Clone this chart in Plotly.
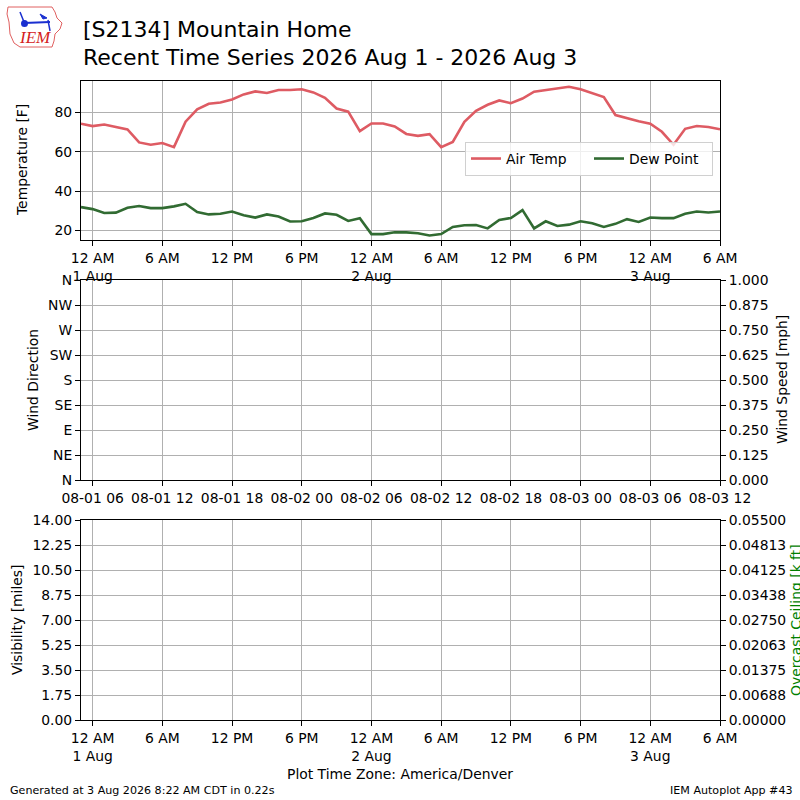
import pandas as pd
import plotly.graph_objects as go

# ---------------- data ----------------
start_time = "2026-07-31 23:00"
air_temp = [74.2, 73.0, 73.8, 72.6, 71.3, 64.7, 63.5, 64.4, 62.3, 75.2, 81.5, 84.3, 85.0, 86.5,
            89.1, 90.6, 89.8, 91.3, 91.3, 91.7, 90.1, 87.4, 81.9, 80.3, 70.4, 74.3, 74.3, 72.8,
            69.0, 68.0, 68.9, 62.3, 64.9, 75.2, 80.7, 83.8, 86.0, 84.6, 87.0, 90.5, 91.3, 92.0,
            93.0, 91.7, 89.9, 87.7, 78.6, 76.9, 75.4, 74.2, 70.1, 63.5, 71.6, 73.0, 72.5, 71.4]
dew_point = [31.8, 30.8, 28.8, 29.0, 31.5, 32.4, 31.3, 31.3, 32.2, 33.5, 29.3, 28.1, 28.4, 29.6,
             27.7, 26.5, 28.1, 27.0, 24.5, 24.6, 26.3, 28.6, 27.9, 24.8, 26.2, 18.1, 18.1, 19.0,
             19.0, 18.5, 17.4, 18.1, 21.7, 22.6, 22.7, 21.0, 25.3, 26.3, 30.3, 21.0, 24.6, 22.2,
             22.9, 24.6, 23.6, 21.7, 23.3, 25.7, 24.3, 26.5, 26.2, 26.2, 28.4, 29.6, 29.1, 29.6]
times = pd.date_range(start_time, periods=len(air_temp), freq="h")

tick_times = ["2026-08-01 00:00", "2026-08-01 06:00", "2026-08-01 12:00", "2026-08-01 18:00",
              "2026-08-02 00:00", "2026-08-02 06:00", "2026-08-02 12:00", "2026-08-02 18:00",
              "2026-08-03 00:00", "2026-08-03 06:00"]
local_labels = ["12 AM<br>1 Aug", "6 AM", "12 PM", "6 PM", "12 AM<br>2 Aug", "6 AM", "12 PM",
                "6 PM", "12 AM<br>3 Aug", "6 AM"]
utc_labels = ["08-01 06", "08-01 12", "08-01 18", "08-02 00", "08-02 06", "08-02 12",
              "08-02 18", "08-03 00", "08-03 06", "08-03 12"]
temp_ticks = [20, 40, 60, 80]
dir_ticks = [0, 45, 90, 135, 180, 225, 270, 315, 360]
dir_labels = ["N", "NE", "E", "SE", "S", "SW", "W", "NW", "N"]
speed_ticks = [0, 0.125, 0.25, 0.375, 0.5, 0.625, 0.75, 0.875, 1.0]
vis_ticks = [0, 1.75, 3.5, 5.25, 7.0, 8.75, 10.5, 12.25, 14.0]
ceil_ticks = [0, 0.006875, 0.01375, 0.020625, 0.0275, 0.034375, 0.04125, 0.048125, 0.055]
ceil_labels = ["0.00000", "0.00688", "0.01375", "0.02063", "0.02750", "0.03438", "0.04125",
               "0.04813", "0.05500"]

# ---------------- figure ----------------
W = H = 800
FONT = "DejaVu Sans"
TICKF = dict(family=FONT, size=13.9, color="black")


def px(x):
    return x / W


def py(y):
    return 1 - y / H


xrange_ = [start_time, "2026-08-03 06:00"]
xdom = [px(81), px(720)]

fig = go.Figure()
fig.add_trace(go.Scatter(x=times, y=air_temp, mode="lines", name="Air Temp",
                         line=dict(color="#de5b63", width=2.6), xaxis="x", yaxis="y"))
fig.add_trace(go.Scatter(x=times, y=dew_point, mode="lines", name="Dew Point",
                         line=dict(color="#316b32", width=2.6), xaxis="x", yaxis="y"))
# empty traces to instantiate other panels
for xa, ya in [("x2", "y2"), ("x2", "y3"), ("x3", "y4"), ("x3", "y5")]:
    fig.add_trace(go.Scatter(x=[None], y=[None], mode="lines", showlegend=False,
                             xaxis=xa, yaxis=ya, hoverinfo="skip"))

common_x = dict(type="date", range=xrange_, domain=xdom, tickvals=tick_times,
                showline=True, mirror=True, linecolor="black", linewidth=1,
                ticks="outside", ticklen=5, tickcolor="black", tickfont=TICKF,
                showgrid=True, gridcolor="#b0b0b0", gridwidth=1, zeroline=False,
                automargin=False)
common_y = dict(showline=True, mirror=True, linecolor="black", linewidth=1,
                ticks="outside", ticklen=5, tickcolor="black", tickfont=TICKF,
                showgrid=True, gridcolor="#b0b0b0", gridwidth=1, zeroline=False,
                automargin=False)
right_y = dict(side="right", showline=False, ticks="outside", ticklen=5,
               tickcolor="black", tickfont=TICKF, showgrid=False, zeroline=False,
               automargin=False)

fig.update_layout(
    width=W, height=H, margin=dict(l=0, r=0, t=0, b=0, autoexpand=False),
    paper_bgcolor="white", plot_bgcolor="white",
    font=dict(family=FONT, color="black"),
    xaxis=dict(common_x, anchor="y", ticktext=local_labels),
    yaxis=dict(common_y, anchor="x", domain=[py(240), py(81)], range=[15.1, 95.9],
               tickvals=temp_ticks),
    xaxis2=dict(common_x, anchor="y2", ticktext=utc_labels),
    yaxis2=dict(common_y, anchor="x2", domain=[py(480), py(280)], range=[0, 360],
                tickvals=dir_ticks, ticktext=dir_labels),
    yaxis3=dict(right_y, anchor="x2", overlaying="y2", range=[0, 1],
                tickvals=speed_ticks, tickformat=".3f"),
    xaxis3=dict(common_x, anchor="y4", ticktext=local_labels),
    yaxis4=dict(common_y, anchor="x3", domain=[py(720), py(520)], range=[0, 14],
                tickvals=vis_ticks, tickformat=".2f"),
    yaxis5=dict(right_y, anchor="x3", overlaying="y4", range=[0, 0.055],
                tickvals=ceil_ticks, ticktext=ceil_labels),
    legend=dict(orientation="h", x=px(713), xanchor="right", y=py(159), yanchor="middle",
                bgcolor="rgba(255,255,255,0.8)", bordercolor="#d0d0d0", borderwidth=1,
                entrywidth=78, entrywidthmode="pixels",
                font=dict(family=FONT, size=13.9, color="black")),
    showlegend=True,
)

ann = []


def text(x, y, s, size=13.9, xanchor="center", yanchor="middle", angle=0, color="black",
         family=FONT):
    ann.append(dict(x=px(x), y=py(y), xref="paper", yref="paper", text=s, showarrow=False,
                    xanchor=xanchor, yanchor=yanchor, textangle=angle,
                    font=dict(family=family, size=size, color=color)))


text(81, 30, "[S2134] Mountain Home", size=22, xanchor="left")
text(81, 57, "Recent Time Series 2026 Aug 1 - 2026 Aug 3", size=22, xanchor="left")
text(22, 160, "Temperature [F]", angle=-90)
text(33, 380, "Wind Direction", angle=-90)
text(782, 380, "Wind Speed [mph]", angle=-90)
text(17, 620, "Visibility [miles]", angle=-90)
text(796, 620, "Overcast Ceiling [k ft]", angle=-90, color="green")
text(400, 774, "Plot Time Zone: America/Denver")
text(8, 790, "Generated at 3 Aug 2026 8:22 AM CDT in 0.22s", size=11.1, xanchor="left")
text(795, 790, "IEM Autoplot App #43", size=11.1, xanchor="right")
text(35, 38, "<i>IEM</i>", size=17, color="#d42020", family="Liberation Serif")
fig.update_layout(annotations=ann)

# simple logo decoration
outline = [(8, 7), (52, 7), (55, 12), (57, 18), (62, 23), (60, 29), (55, 34), (54, 41),
           (52, 47), (20, 47), (14, 43), (10, 34), (9, 22), (7, 14)]
path = "M " + " L ".join(f"{px(x):.5f},{py(y):.5f}" for x, y in outline) + " Z"
shapes = [dict(type="path", path=path, xref="paper", yref="paper",
               line=dict(color="#e06060", width=1))]
shapes.append(dict(type="line", xref="paper", yref="paper", x0=px(24), y0=py(23), x1=px(50),
                   y1=py(22), line=dict(color="#1a2fd0", width=2)))
shapes.append(dict(type="line", xref="paper", yref="paper", x0=px(20), y0=py(12), x1=px(24),
                   y1=py(22), line=dict(color="#1a2fd0", width=1.5)))
shapes.append(dict(type="path", xref="paper", yref="paper",
                   path=f"M {px(40)},{py(14)} L {px(47)},{py(18)} L {px(43)},{py(19)} Z",
                   fillcolor="#1a2fd0", line=dict(color="#1a2fd0", width=1)))
shapes.append(dict(type="line", xref="paper", yref="paper", x0=px(48), y0=py(20), x1=px(50),
                   y1=py(31), line=dict(color="#1a2fd0", width=1.5)))
shapes.append(dict(type="circle", xref="paper", yref="paper", x0=px(22), y0=py(21),
                   x1=px(27), y1=py(26), fillcolor="#1a2fd0", line=dict(color="#1a2fd0")))
fig.update_layout(shapes=shapes)

fig.write_html("out.html", config={"displayModeBar": False},
               post_script="document.body.style.margin='0';document.body.style.overflow='hidden';")
